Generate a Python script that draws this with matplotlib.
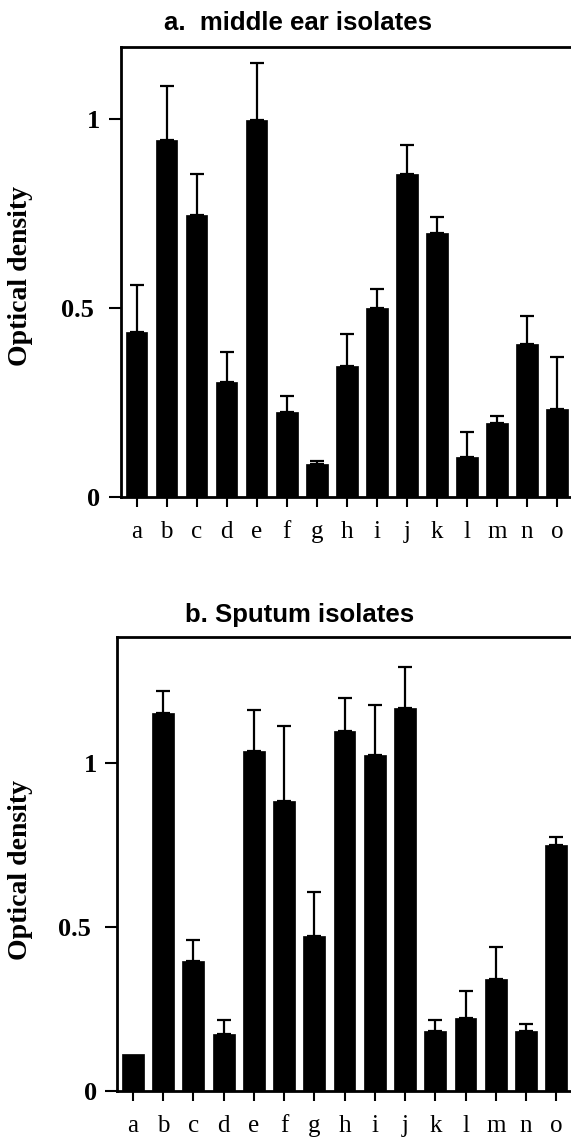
import matplotlib
matplotlib.use("Agg")
import matplotlib.pyplot as plt
from matplotlib.transforms import ScaledTranslation
import numpy as np

isolates = list("abcdefghijklmno")

ear_values = [0.436, 0.943, 0.746, 0.303, 0.996, 0.225, 0.088, 0.346, 0.500,
              0.854, 0.698, 0.106, 0.196, 0.404, 0.233]
ear_errors = [0.125, 0.144, 0.108, 0.081, 0.153, 0.043, 0.007, 0.085, 0.049,
              0.077, 0.042, 0.067, 0.018, 0.075, 0.137]

sputum_values = [0.111, 1.152, 0.395, 0.173, 1.035, 0.884, 0.471, 1.098, 1.022,
                 1.168, 0.181, 0.221, 0.341, 0.181, 0.750]
sputum_errors = [0.0, 0.066, 0.064, 0.042, 0.127, 0.227, 0.134, 0.098, 0.153,
                 0.124, 0.034, 0.084, 0.097, 0.022, 0.023]

yticks = [0, 0.5, 1]
ytick_labels = ["0", "0.5", "1"]

W, H = 571, 1140
fig = plt.figure(figsize=(W / 100, H / 100), dpi=100)

def px_rect(left, top, right, bottom):
    return [left / W, 1 - bottom / H, (right - left) / W, (bottom - top) / H]

def panel(rect, values, errors, xlim, ylim, title, title_xy, ylab_y):
    ax = fig.add_axes(rect)
    x = np.arange(len(isolates))
    ax.bar(x, values, width=0.72, color="black", edgecolor="black", linewidth=0.5, zorder=2)
    idx = [i for i, e in enumerate(errors) if e > 0]
    ax.errorbar(x[idx], np.array(values)[idx],
                yerr=[np.zeros(len(idx)), np.array(errors)[idx]],
                fmt="none", ecolor="black", elinewidth=1.6, capsize=5, capthick=1.6, zorder=1)
    ax.set_xlim(*xlim)
    ax.set_ylim(*ylim)
    ax.set_xticks(x)
    ax.set_xticklabels(isolates, family="Liberation Serif", fontsize=18)
    ax.set_yticks(yticks)
    ax.set_yticklabels(ytick_labels, family="Liberation Serif", fontsize=19, fontweight="bold")
    ax.tick_params(axis="x", direction="out", length=7.5, width=1.5, pad=10)
    ax.tick_params(axis="y", direction="out", length=8.5, width=1.5, pad=6)
    lab = ax.get_yticklabels()[1]
    lab.set_transform(lab.get_transform() + ScaledTranslation(-0.06, 0, fig.dpi_scale_trans))
    for s in ["left", "bottom", "top"]:
        ax.spines[s].set_linewidth(2)
    ax.spines["right"].set_visible(False)
    fig.text(title_xy[0] / W, 1 - title_xy[1] / H, title, family="Liberation Sans",
             fontweight="bold", fontsize=18.5, ha="center", va="baseline")
    fig.text(21 / W, 1 - ylab_y / H, "Optical density", family="Liberation Serif",
             fontweight="bold", fontsize=20, rotation=90, ha="center", va="center")
    return ax

panel(px_rect(120.5, 46.7, 571, 497), ear_values, ear_errors,
      (-0.533, 14.465), (0, 1.191), "a.  middle ear isolates", (298.5, 30), 276)
panel(px_rect(117.2, 636.7, 571, 1090.7), sputum_values, sputum_errors,
      (-0.519, 14.487), (0, 1.384), "b. Sputum isolates", (300, 622), 870)

fig.savefig("out.png", dpi=100)
